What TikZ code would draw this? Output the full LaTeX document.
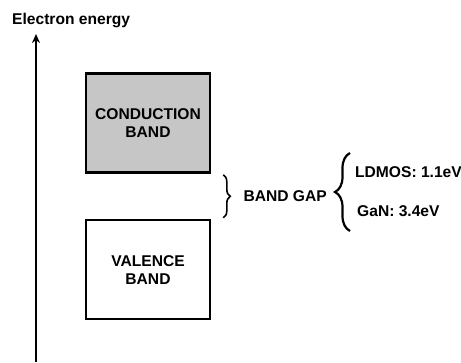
\documentclass[tikz,border=0pt]{standalone}
\usepackage{fontspec}
\setmainfont{Liberation Sans}
\usetikzlibrary{arrows.meta,positioning,calc,decorations.pathreplacing}

\begin{document}
\begin{tikzpicture}[x=1pt,y=-1pt,>=Stealth,
  every node/.style={font=\fontsize{15.6}{18}\selectfont\bfseries, align=center, inner sep=0pt},
  bandbox/.style={draw, line width=2.6pt, minimum width=124pt, minimum height=99pt},
  gapbrace/.style={decorate, decoration={brace, amplitude=#1}, line width=1.6pt}]
  \useasboundingbox (0,0) rectangle (461,363);

  % energy axis
  \coordinate (axisbot) at (36,362);
  \coordinate (axistop) at (36,34);
  \draw[->, line width=1.8pt, >={Stealth[length=9pt,width=8pt]}] (axisbot) -- (axistop);
  \node[anchor=base west] (axislabel) at (12,25) {Electron energy};

  % bands
  \node[bandbox, fill=gray!45] (cond) at (148,123) {CONDUCTION\\BAND};
  \node[bandbox, fill=white, below=45pt of cond] (val) {VALENCE\\BAND};

  % band gap
  \coordinate (gaptop) at ($(cond.south east)+(12,1)$);
  \coordinate (gapbot) at ($(val.north east)+(12,-1)$);
  \draw[gapbrace=7pt] (gaptop) -- (gapbot);
  \node[anchor=west] (gap) at ($(gaptop)!0.5!(gapbot)+(20,0)$) {BAND GAP};

  % materials
  \coordinate (matbot) at (350,231);
  \coordinate (mattop) at (350,153);
  \draw[gapbrace=15pt, line width=2.2pt] (matbot) -- (mattop);
  \node[anchor=west] (ldmos) at (355,172) {LDMOS: 1.1eV};
  \node[anchor=west] (gan) at (357,211) {GaN: 3.4eV};
\end{tikzpicture}
\end{document}
